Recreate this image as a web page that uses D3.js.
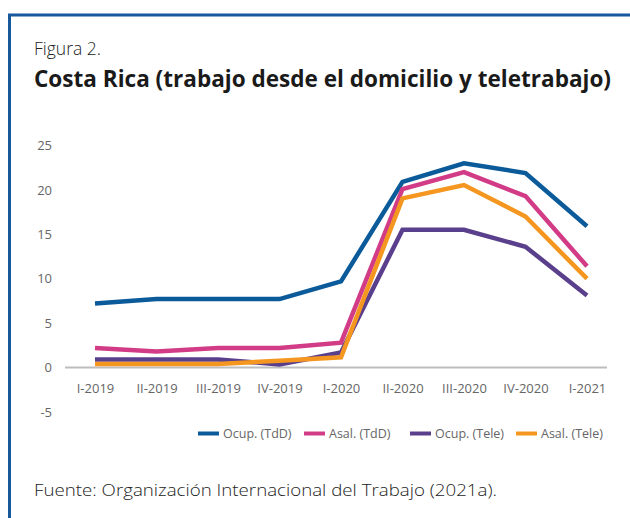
<!DOCTYPE html>
<html><head><meta charset="utf-8">
<script src="https://cdn.jsdelivr.net/npm/d3@7"></script>
<style>body{margin:0;background:#fff;} svg{display:block;font-family:"Open Sans","Noto Sans",sans-serif;}</style>
</head><body>
<svg id="c" width="630" height="518"></svg>
<script>
const categories = ["I-2019","II-2019","III-2019","IV-2019","I-2020","II-2020","III-2020","IV-2020","I-2021"];
const ocupTdD = [7.2,7.7,7.7,7.7,9.7,20.9,23.0,21.9,15.9];
const asalTdD = [2.2,1.8,2.2,2.2,2.8,20.1,22.0,19.3,11.4];
const ocupTele = [0.9,0.9,0.9,0.35,1.7,15.5,15.5,13.6,8.1];
const asalTele = [0.4,0.4,0.4,0.77,1.15,19.05,20.55,17.0,10.0];
const seriesNames = ["Ocup. (TdD)","Asal. (TdD)","Ocup. (Tele)","Asal. (Tele)"];
const seriesColors = ["#0b5a9a","#d23c86","#5a3f8c","#f4961f"];
const yTicks = [-5,0,5,10,15,20,25];

const series = [ocupTdD, asalTdD, ocupTele, asalTele];
const svg = d3.select("#c");

// frame
svg.append("path").attr("d","M9.5,518 L9.5,15 L630,15").attr("fill","none").attr("stroke","#17599b").attr("stroke-width",3);

svg.append("text").attr("x",34).attr("y",55).attr("font-size",17.5).attr("font-weight",300).attr("fill","#222").text("Figura 2.");
svg.append("text").attr("x",34).attr("y",87).attr("font-size",23).attr("font-weight",700).attr("fill","#1a1a1a")
  .attr("textLength",577).attr("lengthAdjust","spacingAndGlyphs").text("Costa Rica (trabajo desde el domicilio y teletrabajo)");

const x = d3.scalePoint().domain(categories).range([95,587]);
const y = d3.scaleLinear().domain([-5,25]).range([411.9,145.5]);

// y axis labels
const ya = svg.append("g").attr("transform","translate(52,0)").call(d3.axisLeft(y).tickValues(yTicks).tickFormat(d=>String(d)).tickSize(0).tickPadding(0));
ya.select(".domain").remove();
ya.selectAll("text").attr("font-size",13).attr("fill","#666").attr("font-family","Open Sans, Noto Sans, sans-serif");

// zero line
svg.append("line").attr("x1",65).attr("x2",607).attr("y1",y(0)).attr("y2",y(0)).attr("stroke","#bdbdbd").attr("stroke-width",2);

// x axis labels
const xa = svg.append("g").attr("transform",`translate(0,${y(0)})`).call(d3.axisBottom(x).tickSize(0).tickPadding(16));
xa.select(".domain").remove();
xa.selectAll("text").attr("font-size",13).attr("fill","#666").attr("font-family","Open Sans, Noto Sans, sans-serif");

const line = d3.line().x((d,i)=>x(categories[i])).y(d=>y(d));
series.forEach((s,k)=>{
  svg.append("path").datum(s).attr("d",line).attr("fill","none").attr("stroke",seriesColors[k]).attr("stroke-width",4.5).attr("stroke-linejoin","miter");
});

// legend
const lx = [198,304,410,516];
seriesNames.forEach((n,k)=>{
  svg.append("line").attr("x1",lx[k]).attr("x2",lx[k]+21).attr("y1",433.5).attr("y2",433.5).attr("stroke",seriesColors[k]).attr("stroke-width",4);
  svg.append("text").attr("x",lx[k]+25).attr("y",438).attr("font-size",12.5).attr("fill","#666").text(n);
});

svg.append("text").attr("x",34).attr("y",496).attr("font-size",17).attr("font-weight",300).attr("fill","#222")
  .attr("textLength",463).attr("lengthAdjust","spacingAndGlyphs").text("Fuente: Organización Internacional del Trabajo (2021a).");
</script>
</body></html>
